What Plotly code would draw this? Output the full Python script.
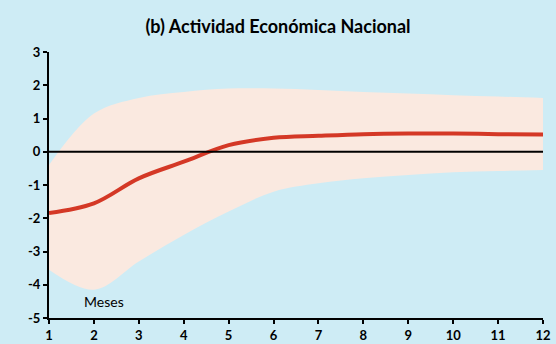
import plotly.graph_objects as go

months = [1, 2, 3, 4, 5, 6, 7, 8, 9, 10, 11, 12]
response = [-1.84, -1.55, -0.8, -0.3, 0.2, 0.42, 0.48, 0.53, 0.55, 0.55, 0.53, 0.52]
upper = [-0.4, 1.15, 1.62, 1.8, 1.9, 1.9, 1.86, 1.8, 1.75, 1.7, 1.66, 1.62]
lower = [-3.55, -4.15, -3.3, -2.5, -1.8, -1.2, -0.95, -0.8, -0.7, -0.62, -0.58, -0.55]
zero = [0] * len(months)
x_ticks = months
y_ticks = [3, 2, 1, 0, -1, -2, -3, -4, -5]

bg = "rgb(206,236,245)"
band = "rgb(250,233,224)"
red = "rgb(212,56,38)"
font = "Lato"

fig = go.Figure()
fig.add_trace(go.Scatter(x=months, y=upper, mode="lines", line=dict(width=0, shape="spline"),
                         hoverinfo="skip", showlegend=False))
fig.add_trace(go.Scatter(x=months, y=lower, mode="lines", line=dict(width=0, shape="spline"),
                         fill="tonexty", fillcolor=band, hoverinfo="skip", showlegend=False))
fig.add_trace(go.Scatter(x=months, y=response, mode="lines", line=dict(color=red, width=4, shape="spline"),
                         showlegend=False))
fig.add_trace(go.Scatter(x=months, y=zero, mode="lines", line=dict(color="black", width=2),
                         showlegend=False))

fig.add_annotation(x=1.73, y=-4.5, text="Meses", showarrow=False, xanchor="left", yanchor="middle",
                   font=dict(family=font, size=14, color="black"))

fig.update_layout(
    width=556, height=344,
    margin=dict(l=49, r=13, t=52, b=26, autoexpand=False),
    paper_bgcolor=bg, plot_bgcolor=bg,
    title=dict(text="<b>(b) Actividad Económica Nacional</b>", x=0.5, xanchor="center",
               y=1 - 27 / 344, yanchor="middle", font=dict(family=font, size=18, color="black")),
    showlegend=False,
)
fig.update_xaxes(range=[1, 12], tickvals=x_ticks, ticktext=[f"<b>{v}</b>" for v in x_ticks],
                 showgrid=False, zeroline=False, showline=True, linecolor="black", linewidth=2,
                 ticks="outside", ticklen=4, tickcolor="black", tickwidth=1.5, automargin=False,
                 tickfont=dict(family=font, size=13, color="black"))
fig.update_yaxes(range=[-5, 3], tickvals=y_ticks, ticktext=[f"<b>{v}</b>" for v in y_ticks],
                 showgrid=False, zeroline=False, showline=True, linecolor="black", linewidth=2,
                 ticks="outside", ticklen=4, tickcolor="black", tickwidth=1.5, automargin=False,
                 tickfont=dict(family=font, size=13, color="black"))

fig.write_html("out.html", config={"displayModeBar": False},
               post_script="document.body.style.margin='0';document.body.style.background='" + bg + "';")
